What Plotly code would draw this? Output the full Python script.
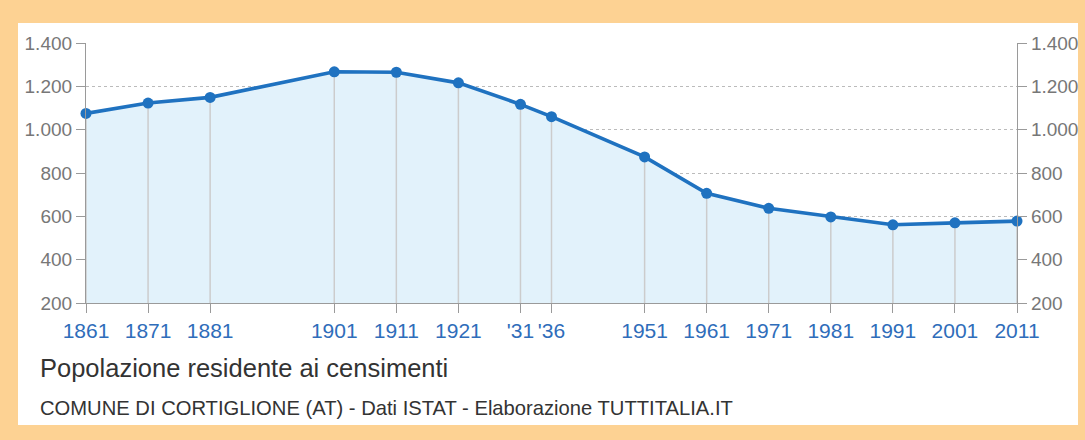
import plotly.graph_objects as go

years = [1861, 1871, 1881, 1901, 1911, 1921, 1931, 1936, 1951, 1961, 1971, 1981, 1991, 2001, 2011]
population = [1075, 1123, 1149, 1267, 1265, 1216, 1117, 1060, 874, 706, 637, 597, 561, 570, 578]
year_labels = ["1861", "1871", "1881", "1901", "1911", "1921", "'31", "'36", "1951", "1961",
               "1971", "1981", "1991", "2001", "2011"]
y_ticks = [200, 400, 600, 800, 1000, 1200, 1400]

title_text = "Popolazione residente ai censimenti"
subtitle_text = "COMUNE DI CORTIGLIONE (AT) - Dati ISTAT - Elaborazione TUTTITALIA.IT"

FONT = "Liberation Sans, Arial, sans-serif"
ORANGE = "#FDD293"
LINE = "#1F72C0"
FILL = "#E2F2FB"
AX = "#9A9A9A"
YMIN = 200

fig = go.Figure()

# filled area under the line
fig.add_trace(go.Scatter(
    x=years, y=population, mode="lines", line=dict(width=0, color=FILL),
    fill="tozeroy", fillcolor=FILL, hoverinfo="skip", showlegend=False,
))

# vertical drop lines from each point to the axis
dx, dy = [], []
for x, v in zip(years, population):
    dx += [x, x, None]
    dy += [YMIN, v, None]
fig.add_trace(go.Scatter(
    x=dx, y=dy, mode="lines", line=dict(color="#CCCCCC", width=1.5),
    hoverinfo="skip", showlegend=False,
))

# main line with markers
fig.add_trace(go.Scatter(
    x=years, y=population, mode="lines+markers",
    line=dict(color=LINE, width=3.6), marker=dict(color=LINE, size=11),
    cliponaxis=False, showlegend=False,
))

# invisible trace for right axis
fig.add_trace(go.Scatter(
    x=years, y=population, yaxis="y2", mode="lines",
    line=dict(width=0), opacity=0, hoverinfo="skip", showlegend=False,
))

yaxis_common = dict(
    range=[YMIN, 1400], tickvals=y_ticks, tickformat=",d",
    showline=True, linecolor=AX, linewidth=1.2,
    ticks="outside", ticklen=9, tickcolor=AX, tickwidth=1.2,
    tickfont=dict(family=FONT, size=19, color="#777777"),
    zeroline=False, fixedrange=True, automargin=False,
)

fig.update_layout(
    width=1085, height=440,
    margin=dict(l=86, r=68, t=43, b=137, autoexpand=False),
    paper_bgcolor=ORANGE, plot_bgcolor="rgba(0,0,0,0)",
    separators=",.",
    font=dict(family=FONT),
    xaxis=dict(
        range=[1861, 2011], tickvals=years, ticktext=year_labels,
        showline=True, linecolor=AX, linewidth=1.2,
        ticks="outside", ticklen=9, tickcolor=AX, tickwidth=1.2,
        tickfont=dict(family=FONT, size=21, color="#2F6DBA"),
        showgrid=False, zeroline=False, fixedrange=True, automargin=False,
    ),
    yaxis=dict(**yaxis_common, side="left", showgrid=True,
               gridcolor="#BBBBBB", griddash="3px,3px", gridwidth=1),
    yaxis2=dict(**yaxis_common, side="right", overlaying="y", showgrid=False),
    shapes=[dict(
        type="rect", xref="paper", yref="paper", layer="below",
        x0=(18 - 86) / 931, x1=(1078 - 86) / 931,
        y0=(303 - 425) / 260, y1=(303 - 23) / 260,
        fillcolor="white", line=dict(width=0),
    )],
    annotations=[
        dict(text=title_text, xref="paper", yref="paper",
             x=(38 - 86) / 931, y=(303 - 368) / 260, xanchor="left", yanchor="middle",
             showarrow=False, font=dict(family=FONT, size=25.5, color="#333333")),
        dict(text=subtitle_text, xref="paper", yref="paper",
             x=(38 - 86) / 931, y=(303 - 408) / 260, xanchor="left", yanchor="middle",
             showarrow=False, font=dict(family=FONT, size=20.2, color="#333333")),
    ],
)

fig.write_html("out.html", config={"displayModeBar": False},
               post_script="document.body.style.margin='0';")
